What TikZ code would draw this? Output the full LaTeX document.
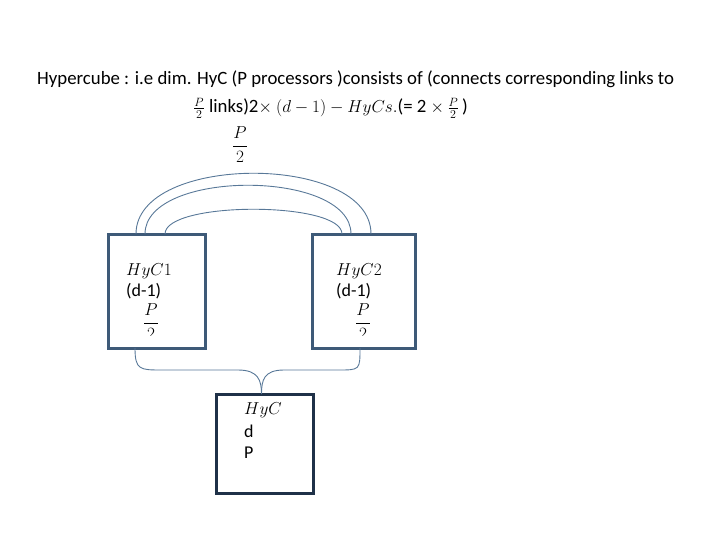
\documentclass[tikz,border=0pt]{standalone}
\usepackage{amsmath}
\usepackage{fontspec}
\setmainfont{Carlito}
\usetikzlibrary{calc}
\definecolor{boxblue}{HTML}{3E5A78}
\definecolor{boxdark}{HTML}{1F3148}
\definecolor{linkblue}{HTML}{587898}

\begin{document}
\begin{tikzpicture}[x=1pt, y=-1pt,
  box/.style={draw=#1, line width=3pt, inner sep=0pt, outer sep=0pt},
  txt/.style={font=\fontsize{18}{21}\selectfont, inner sep=0pt, anchor=base west},
  head/.style={txt, font=\fontsize{18.8}{22}\selectfont},
  frac/.style={txt, anchor=base},
  link/.style={draw=linkblue, line width=0.9pt},
]
\useasboundingbox (0,0) rectangle (720,540);

% --- title ---
\node[head] (title) at (37,85) {Hypercube : i.e dim. HyC (P processors )consists of (connects corresponding links to};
\node[head] (title2) at (193,113) {$\frac{P}{2}$ links)2$\times$ $(d-1)-HyCs.$(= 2 $\times$\,$\frac{P}{2}$\,)};
\node[frac] (half) at (240,150.5) {$\dfrac{P}{\rule{0pt}{14pt}2}$};

% --- sub-cubes ---
\node[box=boxblue, minimum width=97pt, minimum height=114pt] (hyc1) at (156.5,291) {};
\node[box=boxblue, minimum width=103pt, minimum height=114pt] (hyc2) at (363.5,291) {};
\node[txt] at (126,275) {$HyC1$};
\node[txt] at (126,296) {(d-1)};
\node[txt] at (336,275) {$HyC2$};
\node[txt] at (336,296) {(d-1)};
\begin{scope}
  \clip (100,230) rectangle (420,335);
  \node[frac] (p1) at (151,327.5) {$\dfrac{P}{\rule{0pt}{14pt}2}$};
  \node[frac] (p2) at (363,327.5) {$\dfrac{P}{\rule{0pt}{14pt}2}$};
\end{scope}

% --- whole cube ---
\node[box=boxdark, minimum width=97pt, minimum height=99pt] (hyc) at (264.5,443.5) {};
\node[txt] at (244,414) {$HyC$};
\node[txt] at (244,437) {d};
\node[txt] at (244,458) {P};

% --- links between sub-cubes ---
\draw[link] ($(hyc1.north west)+(28,0)$) .. controls +(0,-81) and +(0,-81) .. ($(hyc2.north west)+(59,0)$);
\draw[link] ($(hyc1.north west)+(37,0)$) .. controls +(0,-65) and +(0,-65) .. ($(hyc2.north west)+(39,0)$);
\draw[link] ($(hyc1.north west)+(57,0)$) .. controls +(0,-33) and +(0,-33) .. ($(hyc2.north west)+(30,0)$);

% --- brace ---
\draw[link] ($(hyc1.south west)+(27,0)$) .. controls +(0,22) and +(-22,0) .. (162,370)
  -- (238,370) .. controls +(20,0) and +(0,-14) .. ($(hyc.north)+(-3,0)$);
\draw[link] ($(hyc2.south west)+(48,0)$) .. controls +(0,22) and +(22,0) .. (338,370)
  -- (284,370) .. controls +(-20,0) and +(0,-14) .. ($(hyc.north)+(-3,0)$);
\end{tikzpicture}
\end{document}
